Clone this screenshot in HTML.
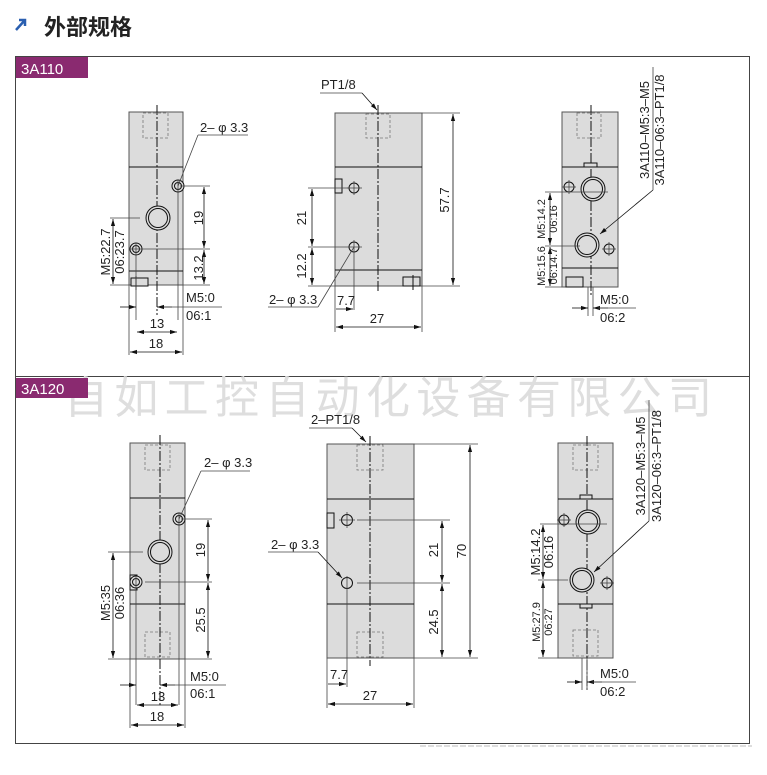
<!DOCTYPE html>
<html><head><meta charset="utf-8"><style>
html,body{margin:0;padding:0;background:#fff}
svg{display:block}
text{font-family:"Liberation Sans","Noto Sans CJK SC",sans-serif;fill:#222}
.b{fill:#dcdcdc;stroke:#555;stroke-width:1}
.l{stroke:#111;stroke-width:1;fill:none}
.t{stroke:#444;stroke-width:.8;fill:none}
.d{stroke:#777;stroke-width:.8;fill:none;stroke-dasharray:3,2}
.c{stroke:#111;stroke-width:1;fill:none;stroke-dasharray:10,2,2,2}
.h{fill:#dcdcdc;stroke:#111;stroke-width:1}
.a{stroke:#111;stroke-width:.8;fill:none;marker-start:url(#ar);marker-end:url(#ar)}
.a1{stroke:#111;stroke-width:.8;fill:none;marker-end:url(#ar)}
.s{font-size:13px}
</style></head><body>
<svg width="767" height="775" viewBox="0 0 767 775" xmlns="http://www.w3.org/2000/svg">
<defs><marker id="ar" viewBox="0 0 10 10" refX="10" refY="5" markerWidth="7" markerHeight="7" orient="auto-start-reverse" markerUnits="userSpaceOnUse"><path d="M0,2 L10,5 L0,8z" fill="#111"/></marker></defs>
<!-- title -->
<path d="M16,30 L25,20 M19,20 L25,20 L25,26" stroke="#2a5fb0" stroke-width="2.5" fill="none"/>
<text x="44" y="35" font-size="22" font-weight="bold">外部规格</text>
<!-- frame -->
<rect x="15.5" y="56.5" width="734" height="687" fill="none" stroke="#444" stroke-width="1"/>
<line x1="15" y1="376.5" x2="750" y2="376.5" stroke="#444"/>
<line x1="420" y1="746" x2="752" y2="746" stroke="#bbb" stroke-dasharray="6,2"/>
<!-- watermark -->
<text x="64" y="413" font-size="44" style="fill:#dedede" textLength="648">自如工控自动化设备有限公司</text>
<rect x="16" y="57" width="72" height="21" fill="#8a2a70"/>
<text x="21" y="74" font-size="15" style="fill:#fff">3A110</text>
<rect x="16" y="378" width="72" height="20" fill="#8a2a70"/>
<text x="21" y="394" font-size="15" style="fill:#fff">3A120</text>

<!-- ===== S1 LEFT ===== -->
<rect class="b" x="129" y="112" width="54" height="173"/>
<line class="l" x1="129" y1="167" x2="183" y2="167"/><line class="l" x1="129" y1="271" x2="183" y2="271"/>
<rect class="d" x="143" y="113" width="25" height="25"/>
<line class="c" x1="157" y1="105" x2="157" y2="315"/>
<rect class="h" x="131" y="278" width="17" height="8"/><line class="l" x1="136" y1="276" x2="136" y2="290"/>
<circle class="h" cx="178" cy="186" r="6"/><circle class="l" cx="178" cy="186" r="3.5"/>
<circle class="h" cx="158" cy="218" r="12"/><circle class="l" cx="158" cy="218" r="9.5"/>
<circle class="h" cx="136" cy="249" r="6"/><circle class="l" cx="136" cy="249" r="3.5"/>
<line class="t" x1="178" y1="180" x2="178" y2="320"/><line class="t" x1="136" y1="243" x2="136" y2="320"/>
<line class="t" x1="180" y1="186" x2="210" y2="186"/><line class="t" x1="130" y1="249" x2="210" y2="249"/><line class="t" x1="183" y1="285" x2="210" y2="285"/>
<line class="a" x1="204" y1="187" x2="204" y2="248"/><line class="a" x1="204" y1="250" x2="204" y2="284"/>
<text class="s" transform="translate(203,218) rotate(-90)" text-anchor="middle">19</text>
<text class="s" transform="translate(203,268) rotate(-90)" text-anchor="middle">13.2</text>
<line class="t" x1="110" y1="218" x2="140" y2="218"/><line class="t" x1="110" y1="285" x2="129" y2="285"/>
<line class="a" x1="113" y1="219" x2="113" y2="284"/>
<text class="s" transform="translate(110,252) rotate(-90)" text-anchor="middle">M5:22.7</text>
<text class="s" transform="translate(124,252) rotate(-90)" text-anchor="middle">06:23.7</text>
<line class="t" x1="129" y1="285" x2="129" y2="355"/><line class="t" x1="183" y1="285" x2="183" y2="355"/>
<line class="a1" x1="120" y1="307" x2="136" y2="307"/><line class="a1" x1="172" y1="307" x2="157" y2="307"/><line class="t" x1="172" y1="307" x2="222" y2="307"/>
<text class="s" x="186" y="302">M5:0</text><text class="s" x="186" y="320">06:1</text>
<line class="a" x1="137" y1="332" x2="177" y2="332"/><text class="s" x="157" y="328" text-anchor="middle">13</text>
<line class="a" x1="130" y1="352" x2="182" y2="352"/><text class="s" x="156" y="348" text-anchor="middle">18</text>
<line class="t" x1="178" y1="186" x2="198" y2="135"/><line class="t" x1="198" y1="135" x2="248" y2="135"/>
<text class="s" x="200" y="132">2– φ 3.3</text>

<!-- ===== S1 MIDDLE ===== -->
<rect class="b" x="335" y="113" width="87" height="173"/>
<line class="l" x1="335" y1="167" x2="422" y2="167"/><line class="l" x1="335" y1="270" x2="422" y2="270"/>
<rect class="d" x="366" y="114" width="24" height="24"/>
<line class="c" x1="378" y1="105" x2="378" y2="293"/>
<rect class="h" x="335" y="179" width="7" height="14"/>
<rect class="h" x="403" y="277" width="17" height="9"/><line class="l" x1="413" y1="275" x2="413" y2="290"/>
<circle class="h" cx="354" cy="188" r="5"/><line class="t" x1="347" y1="188" x2="362" y2="188"/><line class="t" x1="354" y1="181" x2="354" y2="195"/>
<circle class="h" cx="354" cy="247" r="5"/><line class="t" x1="354" y1="240" x2="354" y2="310"/>
<line class="t" x1="308" y1="188" x2="348" y2="188"/><line class="t" x1="308" y1="247" x2="362" y2="247"/><line class="t" x1="308" y1="286" x2="335" y2="286"/>
<line class="a" x1="312" y1="189" x2="312" y2="246"/><line class="a" x1="312" y1="248" x2="312" y2="285"/>
<text class="s" transform="translate(306,218) rotate(-90)" text-anchor="middle">21</text>
<text class="s" transform="translate(306,266) rotate(-90)" text-anchor="middle">12.2</text>
<line class="t" x1="422" y1="113" x2="460" y2="113"/><line class="t" x1="422" y1="286" x2="460" y2="286"/>
<line class="a" x1="453" y1="114" x2="453" y2="285"/>
<text class="s" transform="translate(449,200) rotate(-90)" text-anchor="middle">57.7</text>
<text class="s" x="321" y="89">PT1/8</text><line class="t" x1="320" y1="93" x2="362" y2="93"/><line class="a1" x1="362" y1="93" x2="377" y2="110"/>
<line class="t" x1="354" y1="247" x2="318" y2="307"/><line class="t" x1="268" y1="307" x2="318" y2="307"/>
<text class="s" x="269" y="304">2– φ 3.3</text>
<line class="t" x1="335" y1="286" x2="335" y2="332"/><line class="t" x1="422" y1="286" x2="422" y2="332"/>
<line class="a1" x1="336" y1="309" x2="353" y2="309"/><text class="s" x="337" y="305">7.7</text>
<line class="a" x1="336" y1="327" x2="421" y2="327"/><text class="s" x="377" y="323" text-anchor="middle">27</text>

<!-- ===== S1 RIGHT ===== -->
<rect class="b" x="562" y="112" width="56" height="175"/>
<line class="l" x1="562" y1="167" x2="618" y2="167"/><line class="l" x1="562" y1="268" x2="618" y2="268"/>
<rect class="d" x="577" y="113" width="24" height="25"/>
<line class="c" x1="591" y1="105" x2="591" y2="295"/>
<rect class="h" x="584" y="163" width="13" height="4"/>
<rect class="h" x="566" y="277" width="17" height="10"/>
<circle class="h" cx="593" cy="189" r="12"/><circle class="l" cx="593" cy="189" r="9.5"/>
<circle class="h" cx="569" cy="187" r="5"/><line class="t" x1="562" y1="187" x2="576" y2="187"/><line class="t" x1="569" y1="180" x2="569" y2="194"/>
<line class="t" x1="575" y1="192" x2="608" y2="192"/>
<circle class="h" cx="587" cy="245" r="12"/><circle class="l" cx="587" cy="245" r="9.5"/>
<circle class="h" cx="609" cy="249" r="5"/><line class="t" x1="602" y1="249" x2="616" y2="249"/><line class="t" x1="609" y1="242" x2="609" y2="256"/>
<line class="t" x1="545" y1="192" x2="575" y2="192"/><line class="t" x1="545" y1="246" x2="580" y2="246"/><line class="t" x1="545" y1="287" x2="562" y2="287"/>
<line class="a" x1="550" y1="193" x2="550" y2="245"/><line class="a" x1="550" y1="247" x2="550" y2="286"/>
<text font-size="11" transform="translate(545,219) rotate(-90)" text-anchor="middle">M5:14.2</text>
<text font-size="11" transform="translate(557,219) rotate(-90)" text-anchor="middle">06:16</text>
<text font-size="11" transform="translate(545,266) rotate(-90)" text-anchor="middle">M5:15.6</text>
<text font-size="11" transform="translate(557,266) rotate(-90)" text-anchor="middle">06:14.7</text>
<line class="t" x1="588" y1="287" x2="588" y2="316"/><line class="t" x1="593" y1="287" x2="593" y2="316"/>
<line class="a1" x1="572" y1="308" x2="588" y2="308"/><line class="a1" x1="608" y1="308" x2="593" y2="308"/><line class="t" x1="598" y1="308" x2="636" y2="308"/>
<text class="s" x="600" y="304">M5:0</text><text class="s" x="600" y="322">06:2</text>
<text class="s" transform="translate(649,130) rotate(-90)" text-anchor="middle">3A110–M5:3–M5</text>
<text class="s" transform="translate(664,130) rotate(-90)" text-anchor="middle">3A110–06:3–PT1/8</text>
<line class="t" x1="653" y1="67" x2="653" y2="190"/><line class="a1" x1="653" y1="190" x2="600" y2="234"/>

<!-- ===== S2 LEFT ===== -->
<rect class="b" x="130" y="443" width="55" height="216"/>
<line class="l" x1="130" y1="498" x2="185" y2="498"/><line class="l" x1="130" y1="604" x2="185" y2="604"/>
<rect class="d" x="145" y="445" width="25" height="25"/><rect class="d" x="145" y="632" width="25" height="25"/>
<line class="c" x1="160" y1="435" x2="160" y2="705"/>
<rect class="h" x="130" y="575" width="7" height="15"/>
<circle class="h" cx="179" cy="519" r="6"/><circle class="l" cx="179" cy="519" r="3.5"/>
<circle class="h" cx="160" cy="552" r="12"/><circle class="l" cx="160" cy="552" r="9.5"/>
<circle class="h" cx="136" cy="582" r="6"/><circle class="l" cx="136" cy="582" r="3.5"/>
<line class="t" x1="179" y1="513" x2="179" y2="705"/><line class="t" x1="136" y1="576" x2="136" y2="705"/>
<line class="t" x1="181" y1="519" x2="212" y2="519"/><line class="t" x1="145" y1="582" x2="212" y2="582"/><line class="t" x1="185" y1="659" x2="212" y2="659"/>
<line class="a" x1="208" y1="520" x2="208" y2="581"/><line class="a" x1="208" y1="583" x2="208" y2="658"/>
<text class="s" transform="translate(205,550) rotate(-90)" text-anchor="middle">19</text>
<text class="s" transform="translate(205,620) rotate(-90)" text-anchor="middle">25.5</text>
<line class="t" x1="108" y1="552" x2="143" y2="552"/><line class="t" x1="108" y1="659" x2="130" y2="659"/>
<line class="a" x1="113" y1="553" x2="113" y2="658"/>
<text class="s" transform="translate(110,603) rotate(-90)" text-anchor="middle">M5:35</text>
<text class="s" transform="translate(124,603) rotate(-90)" text-anchor="middle">06:36</text>
<line class="t" x1="130" y1="659" x2="130" y2="728"/><line class="t" x1="185" y1="659" x2="185" y2="728"/>
<line class="a1" x1="120" y1="685" x2="136" y2="685"/><line class="a1" x1="175" y1="685" x2="160" y2="685"/><line class="t" x1="170" y1="685" x2="226" y2="685"/>
<text class="s" x="190" y="681">M5:0</text><text class="s" x="190" y="698">06:1</text>
<line class="a" x1="137" y1="705" x2="178" y2="705"/><text class="s" x="158" y="701" text-anchor="middle">13</text>
<line class="a" x1="131" y1="725" x2="184" y2="725"/><text class="s" x="157" y="721" text-anchor="middle">18</text>
<line class="t" x1="179" y1="519" x2="201" y2="471"/><line class="t" x1="201" y1="471" x2="250" y2="471"/>
<text class="s" x="204" y="467">2– φ 3.3</text>

<!-- ===== S2 MIDDLE ===== -->
<rect class="b" x="327" y="444" width="87" height="214"/>
<line class="l" x1="327" y1="499" x2="414" y2="499"/><line class="l" x1="327" y1="604" x2="414" y2="604"/>
<rect class="d" x="357" y="445" width="26" height="25"/><rect class="d" x="357" y="632" width="26" height="25"/>
<line class="c" x1="370" y1="436" x2="370" y2="666"/>
<rect class="h" x="327" y="513" width="7" height="15"/>
<circle class="h" cx="347" cy="520" r="5.5"/><line class="t" x1="339" y1="520" x2="355" y2="520"/><line class="t" x1="347" y1="512" x2="347" y2="528"/>
<circle class="h" cx="347" cy="583" r="5.5"/><line class="t" x1="347" y1="576" x2="347" y2="687"/>
<line class="t" x1="357" y1="520" x2="450" y2="520"/><line class="t" x1="357" y1="583" x2="450" y2="583"/><line class="t" x1="414" y1="658" x2="478" y2="658"/><line class="t" x1="414" y1="444" x2="478" y2="444"/>
<line class="a" x1="442" y1="521" x2="442" y2="582"/><line class="a" x1="442" y1="584" x2="442" y2="657"/>
<text class="s" transform="translate(438,550) rotate(-90)" text-anchor="middle">21</text>
<text class="s" transform="translate(438,622) rotate(-90)" text-anchor="middle">24.5</text>
<line class="a" x1="470" y1="445" x2="470" y2="657"/>
<text class="s" transform="translate(466,551) rotate(-90)" text-anchor="middle">70</text>
<text class="s" x="311" y="424">2–PT1/8</text><line class="t" x1="309" y1="428" x2="352" y2="428"/><line class="a1" x1="352" y1="428" x2="366" y2="442"/>
<text class="s" x="271" y="549">2– φ 3.3</text><line class="t" x1="268" y1="552" x2="318" y2="552"/><line class="a1" x1="318" y1="552" x2="342" y2="578"/>
<line class="t" x1="327" y1="658" x2="327" y2="708"/><line class="t" x1="414" y1="658" x2="414" y2="708"/>
<line class="a1" x1="328" y1="684" x2="346" y2="684"/><text class="s" x="330" y="679">7.7</text>
<line class="a" x1="328" y1="704" x2="413" y2="704"/><text class="s" x="370" y="700" text-anchor="middle">27</text>

<!-- ===== S2 RIGHT ===== -->
<rect class="b" x="558" y="443" width="55" height="215"/>
<line class="l" x1="558" y1="499" x2="613" y2="499"/><line class="l" x1="558" y1="604" x2="613" y2="604"/>
<rect class="d" x="573" y="445" width="25" height="25"/><rect class="d" x="573" y="630" width="25" height="26"/>
<line class="c" x1="587" y1="436" x2="587" y2="690"/>
<rect class="h" x="580" y="495" width="12" height="4"/><rect class="h" x="580" y="604" width="12" height="4"/>
<circle class="h" cx="588" cy="522" r="12"/><circle class="l" cx="588" cy="522" r="9.5"/>
<circle class="h" cx="564" cy="520" r="5"/><line class="t" x1="557" y1="520" x2="571" y2="520"/><line class="t" x1="564" y1="513" x2="564" y2="527"/>
<line class="t" x1="540" y1="524" x2="607" y2="524"/>
<circle class="h" cx="582" cy="580" r="12"/><circle class="l" cx="582" cy="580" r="9.5"/>
<circle class="h" cx="607" cy="583" r="5"/><line class="t" x1="600" y1="583" x2="614" y2="583"/><line class="t" x1="607" y1="576" x2="607" y2="590"/>
<line class="t" x1="538" y1="580" x2="568" y2="580"/><line class="t" x1="538" y1="658" x2="558" y2="658"/>
<line class="a" x1="543" y1="525" x2="543" y2="579"/><line class="a" x1="543" y1="581" x2="543" y2="657"/>
<text class="s" transform="translate(540,552) rotate(-90)" text-anchor="middle">M5:14.2</text>
<text class="s" transform="translate(553,552) rotate(-90)" text-anchor="middle">06:16</text>
<text font-size="11" transform="translate(540,622) rotate(-90)" text-anchor="middle">M5:27.9</text>
<text font-size="11" transform="translate(552,622) rotate(-90)" text-anchor="middle">06:27</text>
<line class="t" x1="582" y1="658" x2="582" y2="690"/><line class="t" x1="587" y1="658" x2="587" y2="690"/>
<line class="a1" x1="567" y1="682" x2="582" y2="682"/><line class="a1" x1="602" y1="682" x2="587" y2="682"/><line class="t" x1="592" y1="682" x2="636" y2="682"/>
<text class="s" x="600" y="678">M5:0</text><text class="s" x="600" y="696">06:2</text>
<text class="s" transform="translate(645,466) rotate(-90)" text-anchor="middle">3A120–M5:3–M5</text>
<text class="s" transform="translate(661,466) rotate(-90)" text-anchor="middle">3A120–06:3–PT1/8</text>
<line class="t" x1="649" y1="400" x2="649" y2="521"/><line class="a1" x1="649" y1="521" x2="594" y2="572"/>
</svg>
</body></html>
